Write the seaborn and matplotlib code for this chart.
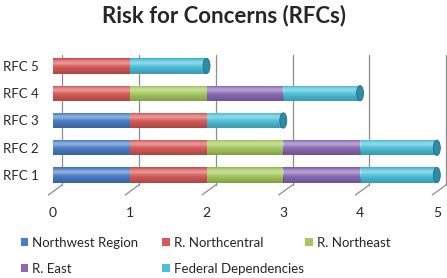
import numpy as np
import pandas as pd
import matplotlib
matplotlib.use("Agg")
import matplotlib.pyplot as plt
import seaborn as sns
from matplotlib.patches import Patch, Ellipse

# ---- data ----
categories = ["RFC 5", "RFC 4", "RFC 3", "RFC 2", "RFC 1"]
series = ["Northwest Region", "R. Northcentral", "R. Northeast", "R. East", "Federal Dependencies"]
northwest = [0, 0, 1, 1, 1]
northcentral = [1, 1, 1, 1, 1]
northeast = [0, 1, 0, 1, 1]
east = [0, 1, 0, 1, 1]
federal = [1, 1, 1, 1, 1]
colors = ["#4A7EC8", "#D65A58", "#A5C85E", "#8A6AB5", "#4DBFDA"]
cap_color = "#2F8CA6"
xticks = [0, 1, 2, 3, 4, 5]

values = np.array([northwest, northcentral, northeast, east, federal], dtype=float)
cum = np.cumsum(values, axis=0)

sns.set_style("white")
plt.rcParams["font.family"] = ["Lato", "DejaVu Sans"]

fig = plt.figure(figsize=(4.47, 2.78), dpi=100)
ax = fig.add_axes([0.098, 0.2986, 0.905, 0.5036])

# stacked bars: draw cumulative totals from the last series to the first
for i in reversed(range(len(series))):
    df = pd.DataFrame({"cat": categories, "val": cum[i]})
    sns.barplot(data=df, x="val", y="cat", order=categories, orient="h",
                color=colors[i], width=0.56, saturation=1, ax=ax)

ax.set_xlim(-0.12, 5.15)
ax.set_ylim(4.73, -0.40)

# cylinder-like shading on each bar
t = np.linspace(0, 1, 64)
s = 0.38 * np.exp(-((t - 0.3) / 0.17) ** 2) - 0.45 * np.clip(t - 0.5, 0, None) ** 1.1 - 0.15 * np.clip(0.12 - t, 0, None) / 0.12
rgba = np.zeros((64, 1, 4))
rgba[s > 0, 0, :3] = 1.0
rgba[:, 0, 3] = np.abs(s)
for k, p in enumerate(ax.patches):
    p.set_zorder(2 + k * 0.1)
    p.set_edgecolor("none")
    w = p.get_width()
    if w <= 0:
        continue
    x0, y0, h = p.get_x(), p.get_y(), p.get_height()
    im = ax.imshow(rgba, extent=[x0, x0 + w, y0 + h, y0], aspect="auto",
                   zorder=2 + k * 0.1 + 0.05, interpolation="bilinear")
    im.set_clip_path(p)

# end caps at the right of each bar
totals = cum[-1]
for j, tot in enumerate(totals):
    ax.add_patch(Ellipse((tot, j), 0.09, 0.56, facecolor=cap_color,
                         edgecolor="#1E6E85", lw=0.6, zorder=20))

ax.set_xlim(-0.12, 5.15)
ax.set_ylim(4.73, -0.40)

# back wall gridlines and floor diagonals
back, front = 0.12, -0.06
for v in xticks:
    ax.plot([v + back, v + back], [-0.40, 4.36], color="#8C8C8C", lw=0.9, zorder=1)
    ax.plot([v + back, v + front], [4.36, 4.73], color="#8C8C8C", lw=0.9, zorder=1, clip_on=False)

for sp in ax.spines.values():
    sp.set_visible(False)
ax.set_xlabel("")
ax.set_ylabel("")
ax.set_xticks(xticks)
ax.set_xticklabels([str(v) for v in xticks], fontsize=10)
ax.tick_params(axis="x", length=0, pad=9)
ax.tick_params(axis="y", length=0, pad=4, labelsize=9.5)

fig.text(0.5, 0.945, "Risk for Concerns (RFCs)", ha="center", va="center",
         fontsize=16, fontweight="bold")

# legend laid out in a fixed grid like the original
handles = [Patch(facecolor=c, edgecolor="none") for c in colors]
col_x = [0.046, 0.362, 0.683]
cols = [[0, 3], [1, 4], [2]]
for cx, idx in zip(col_x, cols):
    fig.legend([handles[i] for i in idx], [series[i] for i in idx],
               loc="upper left", bbox_to_anchor=(cx, 0.148), frameon=False,
               fontsize=9.5, handlelength=0.6, handleheight=0.6, handletextpad=0.3,
               labelspacing=1.05, borderpad=0, borderaxespad=0)

fig.savefig("out.png", dpi=100)
